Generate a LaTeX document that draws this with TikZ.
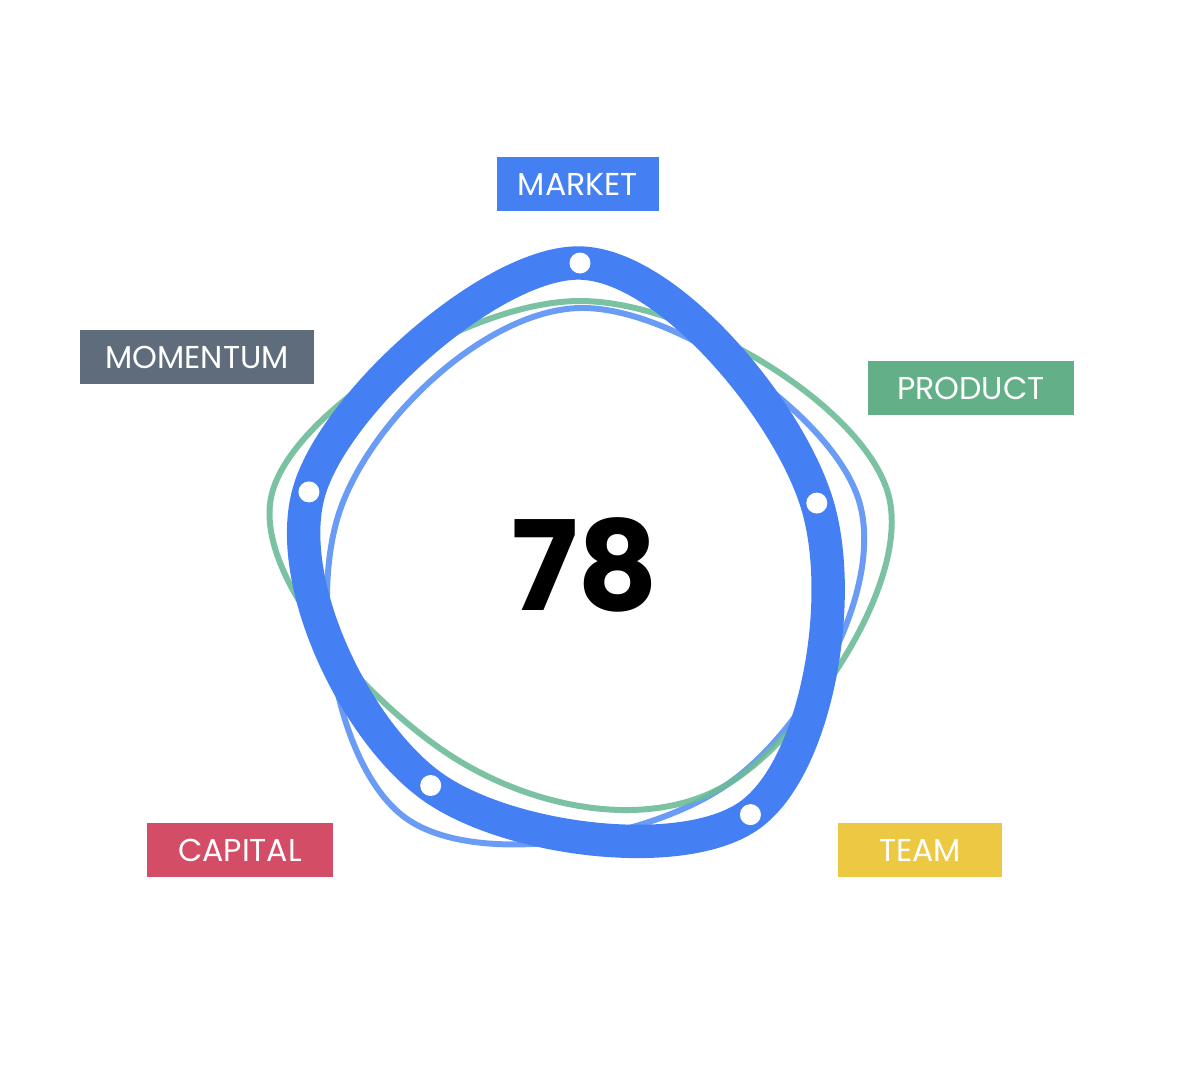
\documentclass[tikz,border=0pt]{standalone}
\usepackage{fontspec}
\setmainfont{Poppins}
\definecolor{mainblue}{HTML}{4480F3}
\definecolor{lightblue}{HTML}{6A9CF5}
\definecolor{softgreen}{HTML}{6CBB98}
\definecolor{marketcol}{HTML}{4580F2}
\definecolor{productcol}{HTML}{62AF88}
\definecolor{teamcol}{HTML}{EDC843}
\definecolor{capitalcol}{HTML}{D34D66}
\definecolor{momentumcol}{HTML}{5E6C7C}

\begin{document}
\begin{tikzpicture}
  [x=0.02cm,y=0.02cm,
   tag/.style={text=white,minimum height=1.08cm,inner sep=0pt,font=\fontsize{18}{20}\selectfont},
   thinline/.style={line width=3.4pt},
   dot/.style={fill=white}]

  \useasboundingbox (-580,-500) rectangle (599,580);

  % curves
  \draw[thinline,lightblue] plot[smooth cycle,tension=0.65] coordinates {(90:272) (16:290) (-54:252) (-126:295) (164:250)};
  \draw[thinline,softgreen,opacity=0.9] plot[smooth cycle,tension=0.65] coordinates {(90:279) (16:320) (-54:252) (-126:218) (164:320)};

  \coordinate (m) at (90:317);
  \coordinate (p) at (18:249);
  \coordinate (t) at (-54:290);
  \coordinate (c) at (-126:254);
  \coordinate (o) at (162:285);
  \draw[line width=19pt,mainblue] plot[smooth cycle,tension=0.62] coordinates {(m) (p) (t) (c) (o)};
  \foreach \v in {m,p,t,c,o}
    \fill[dot] (\v) circle (0.21cm);

  \node (score) at (5,15) {\fontsize{71}{74}\selectfont\bfseries 78};

  \node[tag,fill=marketcol,minimum width=3.26cm] (market) at (-2,396) {MARKET};
  \node[tag,fill=productcol,minimum width=4.14cm] (product) at (391,192) {PRODUCT};
  \node[tag,fill=teamcol,minimum width=3.3cm] (team) at (340,-270) {TEAM};
  \node[tag,fill=capitalcol,minimum width=3.74cm] (capital) at (-340,-270) {CAPITAL};
  \node[tag,fill=momentumcol,minimum width=4.7cm] (momentum) at (-383,223) {MOMENTUM};
\end{tikzpicture}
\end{document}
